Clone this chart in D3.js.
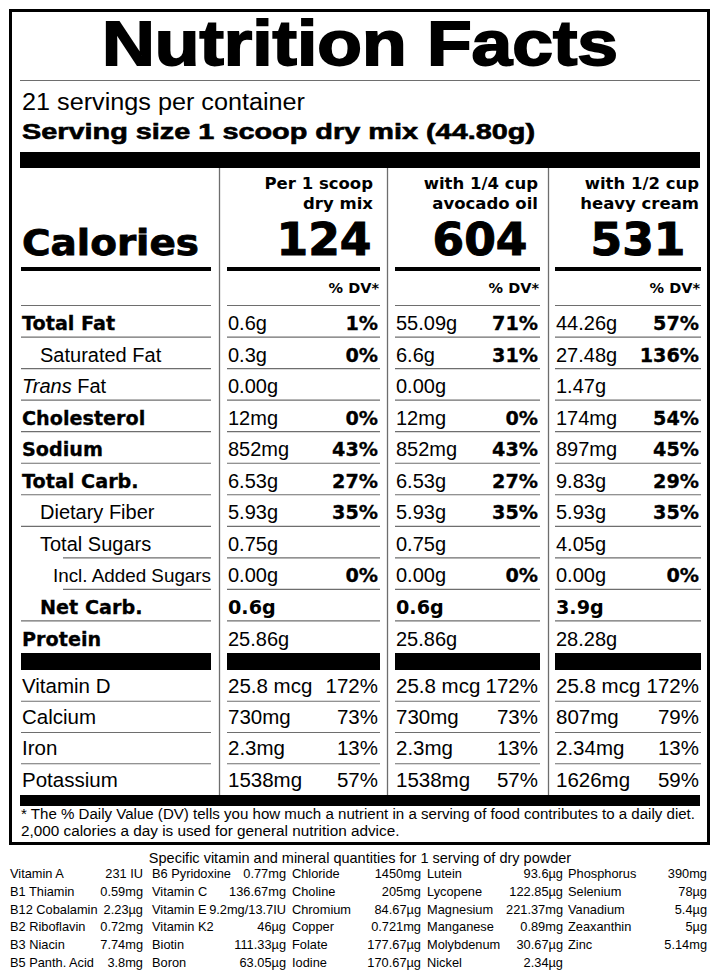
<!DOCTYPE html>
<html><head><meta charset="utf-8">
<script src="https://cdn.jsdelivr.net/npm/d3@7"></script>
<style>html,body{margin:0;padding:0;background:#fff}svg{display:block}</style>
</head><body>
<script>
// ---------------- data ----------------
const title = "Nutrition Facts";
const servingsText = "21 servings per container";
const servingSizeText = "Serving size 1 scoop dry mix (44.80g)";
const columnHeaders = [["Per 1 scoop","dry mix"],["with 1/4 cup","avocado oil"],["with 1/2 cup","heavy cream"]];
const calories = [124, 604, 531];
const nutrients = ["Total Fat","Saturated Fat","Trans Fat","Cholesterol","Sodium","Total Carb.","Dietary Fiber","Total Sugars","Incl. Added Sugars","Net Carb.","Protein"];
const amountsDryMix   = ["0.6g","0.3g","0.00g","12mg","852mg","6.53g","5.93g","0.75g","0.00g","0.6g","25.86g"];
const dvDryMix        = ["1%","0%","","0%","43%","27%","35%","","0%","",""];
const amountsAvocado  = ["55.09g","6.6g","0.00g","12mg","852mg","6.53g","5.93g","0.75g","0.00g","0.6g","25.86g"];
const dvAvocado       = ["71%","31%","","0%","43%","27%","35%","","0%","",""];
const amountsCream    = ["44.26g","27.48g","1.47g","174mg","897mg","9.83g","5.93g","4.05g","0.00g","3.9g","28.28g"];
const dvCream         = ["57%","136%","","54%","45%","29%","35%","","0%","",""];
const vitamins = ["Vitamin D","Calcium","Iron","Potassium"];
const vitDryMix   = ["25.8 mcg","730mg","2.3mg","1538mg"];
const vitDvDryMix = ["172%","73%","13%","57%"];
const vitAvocado   = ["25.8 mcg","730mg","2.3mg","1538mg"];
const vitDvAvocado = ["172%","73%","13%","57%"];
const vitCream   = ["25.8 mcg","807mg","2.34mg","1626mg"];
const vitDvCream = ["172%","79%","13%","59%"];
const footnote = ["* The % Daily Value (DV) tells you how much a nutrient in a serving of food contributes to a daily diet.",
                  "2,000 calories a day is used for general nutrition advice."];
const extraTitle = "Specific vitamin and mineral quantities for 1 serving of dry powder";
const extraNamesA = ["Vitamin A","B1 Thiamin","B12 Cobalamin","B2 Riboflavin","B3 Niacin","B5 Panth. Acid"];
const extraValsA  = ["231 IU","0.59mg","2.23µg","0.72mg","7.74mg","3.8mg"];
const extraNamesB = ["B6 Pyridoxine","Vitamin C","Vitamin E","Vitamin K2","Biotin","Boron"];
const extraValsB  = ["0.77mg","136.67mg","9.2mg/13.7IU","46µg","111.33µg","63.05µg"];
const extraNamesC = ["Chloride","Choline","Chromium","Copper","Folate","Iodine"];
const extraValsC  = ["1450mg","205mg","84.67µg","0.721mg","177.67µg","170.67µg"];
const extraNamesD = ["Lutein","Lycopene","Magnesium","Manganese","Molybdenum","Nickel"];
const extraValsD  = ["93.6µg","122.85µg","221.37mg","0.89mg","30.67µg","2.34µg"];
const extraNamesE = ["Phosphorus","Selenium","Vanadium","Zeaxanthin","Zinc"];
const extraValsE  = ["390mg","78µg","5.4µg","5µg","5.14mg"];

// ---------------- styles ----------------
const boldRows = new Set(["Total Fat","Cholesterol","Sodium","Total Carb.","Net Carb.","Protein"]);
const indent1 = new Set(["Saturated Fat","Dietary Fiber","Total Sugars","Net Carb."]);
const indent2 = new Set(["Incl. Added Sugars"]);
const indentLineRows = new Set(["Total Sugars","Incl. Added Sugars"]);
const REG = "'Liberation Sans', Arial, Helvetica, sans-serif";
const HEAVY = "'DejaVu Sans', Verdana, sans-serif";
const NARROW = "'Liberation Sans Narrow', 'Arial Narrow', sans-serif";
const GRAY = "#6e6e6e";

const W = 720, H = 976;
const svg = d3.select("body").append("svg").attr("width", W).attr("height", H);
svg.append("rect").attr("width", W).attr("height", H).attr("fill", "#fff");

// frame
svg.append("rect").attr("x", 10.5).attr("y", 10.5).attr("width", 698).attr("height", 833)
  .attr("fill", "none").attr("stroke", "#000").attr("stroke-width", 3);

// title
svg.append("text").attr("x", 360).attr("y", 65).attr("text-anchor", "middle")
  .attr("font-family", NARROW).attr("font-weight", "bold").attr("font-size", 63)
  .attr("stroke", "#000").attr("stroke-width", 1.8)
  .attr("textLength", 516).attr("lengthAdjust", "spacingAndGlyphs").text(title);
svg.append("line").attr("x1", 20).attr("x2", 700).attr("y1", 80.5).attr("y2", 80.5)
  .attr("stroke", GRAY).attr("stroke-width", 1.2);

svg.append("text").attr("x", 22).attr("y", 110).attr("font-family", REG).attr("font-size", 23)
  .attr("textLength", 283).attr("lengthAdjust", "spacingAndGlyphs").text(servingsText);
svg.append("text").attr("x", 22).attr("y", 139).attr("font-family", REG).attr("font-weight", "bold")
  .attr("font-size", 22).attr("stroke", "#000").attr("stroke-width", 0.6)
  .attr("textLength", 513).attr("lengthAdjust", "spacingAndGlyphs").text(servingSizeText);

// top bar
svg.append("rect").attr("x", 20).attr("y", 152).attr("width", 680).attr("height", 16).attr("fill", "#000");

// column scales
const cols = [0, 1, 2];
const colLeft = d3.scaleOrdinal().domain(cols).range([227, 395, 555]);
const colRight = d3.scaleOrdinal().domain(cols).range([380, 540, 701]);
const colSep = d3.scaleOrdinal().domain(cols).range([219, 387, 548]);
const labelLeft = 21, labelRight = 211;
const segments = [[labelLeft, labelRight]].concat(cols.map(c => [colLeft(c), colRight(c)]));

// vertical separators
svg.selectAll(".vsep").data(cols).join("line")
  .attr("x1", c => colSep(c) + 0.5).attr("x2", c => colSep(c) + 0.5)
  .attr("y1", 168).attr("y2", 795).attr("stroke", GRAY).attr("stroke-width", 1.3);

// headers
const headerRight = d3.scaleOrdinal().domain(cols).range([373, 538, 699]);
const calCenter = d3.scaleOrdinal().domain(cols).range([324, 480, 638]);
cols.forEach(c => {
  columnHeaders[c].forEach((t, i) => {
    svg.append("text").attr("x", headerRight(c)).attr("y", 189 + i * 20).attr("text-anchor", "end")
      .attr("font-family", HEAVY).attr("font-weight", "bold").attr("font-size", 16.5).text(t);
  });
});
svg.selectAll(".cal").data(calories).join("text")
  .attr("x", (d, i) => calCenter(i)).attr("y", 255).attr("text-anchor", "middle")
  .attr("font-family", HEAVY).attr("font-weight", "bold").attr("font-size", 44)
  .attr("stroke", "#000").attr("stroke-width", 1)
  .attr("textLength", 95).attr("lengthAdjust", "spacingAndGlyphs").text(d => d);
svg.append("text").attr("x", 22).attr("y", 255).attr("font-family", HEAVY).attr("font-weight", "bold")
  .attr("font-size", 35).attr("stroke", "#000").attr("stroke-width", 0.8)
  .attr("textLength", 177).attr("lengthAdjust", "spacingAndGlyphs").text("Calories");

// thick line under calories
svg.selectAll(".thick").data(segments).join("line")
  .attr("x1", d => d[0]).attr("x2", d => d[1]).attr("y1", 269).attr("y2", 269)
  .attr("stroke", "#000").attr("stroke-width", 4);
// % DV*
svg.selectAll(".dvh").data(cols).join("text")
  .attr("x", c => colRight(c) - 1).attr("y", 293).attr("text-anchor", "end")
  .attr("font-family", HEAVY).attr("font-weight", "bold").attr("font-size", 14.5).text("% DV*");

// rows
const y = d3.scaleBand().domain(nutrients).range([305.5, 652.5]).padding(0);
svg.selectAll(".hl0").data(segments).join("line")
  .attr("x1", d => d[0]).attr("x2", d => d[1]).attr("y1", 305.5).attr("y2", 305.5)
  .attr("stroke", GRAY).attr("stroke-width", 1.2);

nutrients.forEach((n, i) => {
  const bottom = y(n) + y.bandwidth();
  const base = bottom - 7;
  const lx = indent2.has(n) ? 53 : indent1.has(n) ? 40 : 22;
  const bold = boldRows.has(n);
  if (n === "Trans Fat") {
    const t = svg.append("text").attr("x", lx).attr("y", base).attr("font-family", REG).attr("font-size", 20);
    t.append("tspan").attr("font-style", "italic").text("Trans");
    t.append("tspan").text(" Fat");
  } else {
    const t = svg.append("text").attr("x", lx).attr("y", base)
      .attr("font-family", bold ? HEAVY : REG).attr("font-weight", bold ? "bold" : "normal")
      .attr("font-size", bold ? 19.2 : (indent2.has(n) ? 18.6 : 20)).text(n);
    if (bold) t.attr("stroke", "#000").attr("stroke-width", 0.3);
    if (indent2.has(n)) t.attr("textLength", 158).attr("lengthAdjust", "spacingAndGlyphs");
  }
  if (i < nutrients.length - 1) {
    svg.selectAll(null).data(segments).join("line")
      .attr("x1", (d, k) => (k === 0 && indentLineRows.has(n)) ? 63 : d[0]).attr("x2", d => d[1])
      .attr("y1", bottom).attr("y2", bottom).attr("stroke", GRAY).attr("stroke-width", 1.2);
  }
});

const amounts = [amountsDryMix, amountsAvocado, amountsCream];
const dvs = [dvDryMix, dvAvocado, dvCream];
cols.forEach(c => {
  svg.selectAll(null).data(nutrients).join("text")
    .attr("x", colLeft(c) + 1).attr("y", d => y(d) + y.bandwidth() - 7)
    .attr("font-family", d => d === "Net Carb." ? HEAVY : REG)
    .attr("font-weight", d => d === "Net Carb." ? "bold" : "normal")
    .attr("font-size", d => d === "Net Carb." ? 19.2 : 20)
    .text((d, i) => amounts[c][i]);
  svg.selectAll(null).data(nutrients).join("text")
    .attr("x", colRight(c) - 2).attr("y", d => y(d) + y.bandwidth() - 7).attr("text-anchor", "end")
    .attr("font-family", HEAVY).attr("font-weight", "bold").attr("font-size", 19.2)
    .attr("stroke", "#000").attr("stroke-width", 0.3)
    .text((d, i) => dvs[c][i]);
});

// black bars above vitamins
svg.selectAll(".vbar").data(segments).join("rect")
  .attr("x", d => d[0]).attr("width", d => d[1] - d[0]).attr("y", 653).attr("height", 17).attr("fill", "#000");

// vitamins
const yv = d3.scaleBand().domain(vitamins).range([670, 795]).padding(0);
const vitAmounts = [vitDryMix, vitAvocado, vitCream];
const vitDvs = [vitDvDryMix, vitDvAvocado, vitDvCream];
svg.selectAll(".vlab").data(vitamins).join("text")
  .attr("x", 22).attr("y", d => yv(d) + yv.bandwidth() - 8.5)
  .attr("font-family", REG).attr("font-size", 20.5).text(d => d);
cols.forEach(c => {
  svg.selectAll(null).data(vitamins).join("text")
    .attr("x", colLeft(c) + 1).attr("y", d => yv(d) + yv.bandwidth() - 8.5)
    .attr("font-family", REG).attr("font-size", 20.5).text((d, i) => vitAmounts[c][i]);
  svg.selectAll(null).data(vitamins).join("text")
    .attr("x", colRight(c) - 2).attr("y", d => yv(d) + yv.bandwidth() - 8.5).attr("text-anchor", "end")
    .attr("font-family", REG).attr("font-size", 20.5).text((d, i) => vitDvs[c][i]);
});
vitamins.slice(0, -1).forEach(v => {
  const b = yv(v) + yv.bandwidth();
  svg.selectAll(null).data(segments).join("line")
    .attr("x1", d => d[0]).attr("x2", d => d[1]).attr("y1", b).attr("y2", b)
    .attr("stroke", GRAY).attr("stroke-width", 1.2);
});

// bottom bar
svg.append("rect").attr("x", 20).attr("y", 795).attr("width", 680).attr("height", 11).attr("fill", "#000");

// footnote
footnote.forEach((t, i) => {
  const el = svg.append("text").attr("x", 21).attr("y", 819 + i * 16.5).attr("font-family", REG)
    .attr("font-size", 15.3).text(t);
  if (i === 0) el.attr("textLength", 674).attr("lengthAdjust", "spacingAndGlyphs");
});

// extra table
svg.append("text").attr("x", 360).attr("y", 863).attr("text-anchor", "middle")
  .attr("font-family", REG).attr("font-size", 14.5).text(extraTitle);
const extraCols = [[extraNamesA, extraValsA],[extraNamesB, extraValsB],[extraNamesC, extraValsC],[extraNamesD, extraValsD],[extraNamesE, extraValsE]];
const ex = d3.scaleOrdinal().domain([0,1,2,3,4]).range([10, 152, 292, 427, 568]);
const exR = d3.scaleOrdinal().domain([0,1,2,3,4]).range([143, 286, 421, 563, 707]);
const ey = d3.scalePoint().domain(d3.range(6)).range([878, 967]);
extraCols.forEach(([names, vals], c) => {
  svg.selectAll(null).data(names).join("text")
    .attr("x", ex(c)).attr("y", (d, i) => ey(i)).attr("font-family", REG).attr("font-size", 12.8).text(d => d);
  svg.selectAll(null).data(vals).join("text")
    .attr("x", exR(c)).attr("y", (d, i) => ey(i)).attr("text-anchor", "end")
    .attr("font-family", REG).attr("font-size", 12.8).text(d => d);
});
</script>
</body></html>
